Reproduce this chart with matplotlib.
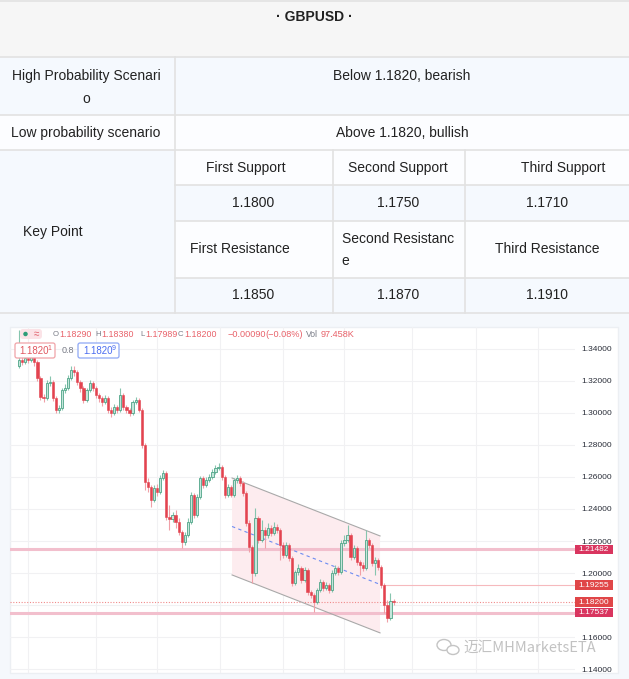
import matplotlib
matplotlib.use("Agg")
import matplotlib.pyplot as plt
import matplotlib.transforms as mtransforms
from matplotlib.patches import Rectangle, Polygon, FancyBboxPatch, Ellipse
import numpy as np

plt.rcParams['font.family'] = ['Liberation Sans', 'Noto Sans CJK SC', 'DejaVu Sans']

# ---- table data ----
title = "· GBPUSD ·"
scenario_labels = ["High Probability Scenari", "Low probability scenario"]
scenario_texts = ["Below 1.1820, bearish", "Above 1.1820, bullish"]
support_names = ["First Support", "Second Support", "Third Support"]
support_values = ["1.1800", "1.1750", "1.1710"]
resist_names = ["First Resistance", "Second Resistanc", "Third Resistance"]
resist_values = ["1.1850", "1.1870", "1.1910"]

# ---- candle data (daily GBPUSD) ----
closes = [1.3329, 1.3316, 1.3341, 1.3329, 1.3354, 1.3316, 1.3217, 1.3098, 1.3092, 1.3185,
          1.3192, 1.3092, 1.3017, 1.3030, 1.3142, 1.3154, 1.3217, 1.3266, 1.3254, 1.3192,
          1.3154, 1.3079, 1.3142, 1.3185, 1.3154, 1.3111, 1.3092, 1.3067, 1.3092, 1.3017,
          1.2999, 1.3036, 1.3017, 1.3111, 1.3036, 1.3017, 1.2999, 1.3067, 1.3079, 1.3017,
          1.2799, 1.2569, 1.2538, 1.2457, 1.2531, 1.2506, 1.2594, 1.2625, 1.2351, 1.2338,
          1.2363, 1.2319, 1.2257, 1.2195, 1.2238, 1.2319, 1.2488, 1.2363, 1.2475, 1.2594,
          1.2550, 1.2581, 1.2600, 1.2631, 1.2656, 1.2662, 1.2600, 1.2488, 1.2538, 1.2488,
          1.2581, 1.2594, 1.2562, 1.2500, 1.2313, 1.2164, 1.2002, 1.2344, 1.2207, 1.2270,
          1.2238, 1.2282, 1.2251, 1.2288, 1.2270, 1.2176, 1.2114, 1.2176, 1.2095, 1.1939,
          1.2008, 1.2033, 1.1958, 1.2020, 1.1884, 1.1865, 1.1821, 1.1896, 1.1946, 1.1908,
          1.1927, 1.1896, 1.2002, 1.2033, 1.2008, 1.2189, 1.2207, 1.2238, 1.2102, 1.2158,
          1.2070, 1.2052, 1.2033, 1.2207, 1.2176, 1.2064, 1.2083, 1.2039, 1.1927, 1.1802,
          1.1721, 1.1829, 1.1820]
highs = [1.3516, 1.3347, 1.3360, 1.3354, 1.3379, 1.3360, 1.3329, 1.3229, 1.3117, 1.3204,
         1.3229, 1.3204, 1.3104, 1.3048, 1.3154, 1.3179, 1.3235, 1.3291, 1.3291, 1.3266,
         1.3204, 1.3167, 1.3154, 1.3204, 1.3198, 1.3167, 1.3123, 1.3104, 1.3111, 1.3104,
         1.3036, 1.3055, 1.3048, 1.3154, 1.3123, 1.3048, 1.3030, 1.3079, 1.3098, 1.3092,
         1.3030, 1.2812, 1.2594, 1.2550, 1.2550, 1.2556, 1.2612, 1.2643, 1.2637, 1.2425,
         1.2382, 1.2394, 1.2344, 1.2270, 1.2257, 1.2344, 1.2506, 1.2500, 1.2494, 1.2606,
         1.2606, 1.2600, 1.2619, 1.2650, 1.2675, 1.2687, 1.2675, 1.2612, 1.2556, 1.2550,
         1.2594, 1.2612, 1.2606, 1.2575, 1.2513, 1.2332, 1.2176, 1.2407, 1.2357, 1.2332,
         1.2288, 1.2313, 1.2301, 1.2319, 1.2307, 1.2282, 1.2195, 1.2195, 1.2189, 1.2108,
         1.2020, 1.2058, 1.2045, 1.2039, 1.2033, 1.1896, 1.1877, 1.1908, 1.1964, 1.1958,
         1.1946, 1.1939, 1.2020, 1.2052, 1.2045, 1.2207, 1.2238, 1.2301, 1.2251, 1.2176,
         1.2170, 1.2083, 1.2070, 1.2270, 1.2220, 1.2189, 1.2102, 1.2095, 1.2052, 1.1939,
         1.1834, 1.1877, 1.1838]
lows = [1.3279, 1.3298, 1.3304, 1.3310, 1.3316, 1.3291, 1.3198, 1.3079, 1.3067, 1.3079,
        1.3167, 1.3073, 1.2999, 1.2999, 1.3017, 1.3123, 1.3142, 1.3204, 1.3229, 1.3173,
        1.3129, 1.3061, 1.3067, 1.3129, 1.3136, 1.3092, 1.3067, 1.3042, 1.3055, 1.2999,
        1.2974, 1.2986, 1.2999, 1.3005, 1.3017, 1.2999, 1.2980, 1.2986, 1.3055, 1.3005,
        1.2781, 1.2519, 1.2506, 1.2413, 1.2444, 1.2481, 1.2494, 1.2581, 1.2332, 1.2270,
        1.2319, 1.2282, 1.2238, 1.2158, 1.2176, 1.2226, 1.2307, 1.2344, 1.2351, 1.2463,
        1.2531, 1.2538, 1.2569, 1.2587, 1.2619, 1.2643, 1.2581, 1.2469, 1.2475, 1.2475,
        1.2475, 1.2562, 1.2544, 1.2481, 1.2294, 1.2133, 1.1939, 1.1983, 1.2189, 1.2195,
        1.2158, 1.2220, 1.2232, 1.2238, 1.2251, 1.2083, 1.2095, 1.2102, 1.2077, 1.1921,
        1.1927, 1.1989, 1.1939, 1.1946, 1.1865, 1.1846, 1.1759, 1.1809, 1.1884, 1.1890,
        1.1896, 1.1877, 1.1884, 1.1989, 1.1989, 1.1995, 1.2170, 1.2195, 1.2083, 1.2089,
        1.2052, 1.1989, 1.2014, 1.2020, 1.2158, 1.2045, 1.1989, 1.2020, 1.1908, 1.1753,
        1.1696, 1.1709, 1.1799]
first_open = 1.3291
opens = [first_open] + closes[:-1]

# month separators (candle index)
month_marks = [3, 25, 45, 65.5, 86, 106, 128, 149, 169]

# drawn channel
channel_x = [69.4, 117.6]
channel_upper = [1.2593, 1.2232]
channel_lower = [1.1989, 1.1628]

# horizontal levels
level_strong = [1.21482, 1.17537]
level_thin = 1.19255
last_price = 1.18200

legend_parts = [("O", "1.18290"), ("H", "1.18380"), ("L", "1.17989"), ("C", "1.18200")]
change_txt = ["\u22120.00090", "(\u22120.08%)"]
vol_txt = "97.458K"

W, H = 629, 679
fig = plt.figure(figsize=(W / 100, H / 100), dpi=100)

# ---------------- background / table ----------------
bg = fig.add_axes([0, 0, 1, 1])
bg.set_xlim(0, W)
bg.set_ylim(H, 0)
bg.axis('off')

border = '#e2e2e2'
blue_bg = '#f5f9fe'
white_bg = '#fcfdff'

bg.add_patch(Rectangle((0, 0), W, 57, fc='#f6f6f6', ec='none'))
bg.add_patch(Rectangle((0, 57), W, 58, fc=blue_bg, ec='none'))
bg.add_patch(Rectangle((0, 115), W, 35, fc=white_bg, ec='none'))
bg.add_patch(Rectangle((0, 150), 175, 163, fc=blue_bg, ec='none'))
for y0, hh, col in [(150, 35, white_bg), (185, 36, blue_bg), (221, 57, white_bg), (278, 35, blue_bg)]:
    bg.add_patch(Rectangle((175, y0), W - 175, hh, fc=col, ec='none'))
bg.add_patch(Rectangle((0, 313), W, H - 313, fc='#f5f8fc', ec='none'))

for y in [0.5, 57, 115, 150, 313]:
    bg.plot([0, W], [y, y], color=border, lw=1.2)
for y in [185, 221, 278]:
    bg.plot([175, W], [y, y], color=border, lw=1.2)
bg.plot([175, 175], [57, 313], color=border, lw=1.2)
for x in [332.5, 465]:
    bg.plot([x, x], [150, 313], color=border, lw=1.2)

tk = dict(fontsize=10, color='#222222', va='center')
bg.text(314, 17, title, ha='center', fontweight='bold', **tk)
bg.text(86, 76, scenario_labels[0], ha='center', **tk)
bg.text(86, 99, "o", ha='center', **tk)
bg.text(402, 76, scenario_texts[0], ha='center', **tk)
bg.text(86, 133, scenario_labels[1], ha='center', **tk)
bg.text(402, 133, scenario_texts[1], ha='center', **tk)
bg.text(23, 232, "Key Point", ha='left', **tk)

name_x = [246, 398, 563]
val_x = [253, 398, 547]
res_x = [240, 398, 547]
for i in range(3):
    bg.text(name_x[i], 168, support_names[i], ha='center', **tk)
    bg.text(val_x[i], 203, support_values[i], ha='center', **tk)
    bg.text(val_x[i], 295, resist_values[i], ha='center', **tk)
    if i == 1:
        bg.text(res_x[i], 239, resist_names[i], ha='center', **tk)
        bg.text(345, 261, "e", ha='center', **tk)
    else:
        bg.text(res_x[i], 249, resist_names[i], ha='center', **tk)

# chart panel
bg.add_patch(Rectangle((10, 327), 608, 346, fc='white', ec='#eceff3', lw=1))

# ---------------- candlestick chart ----------------
ax = fig.add_axes([10 / W, (H - 673) / H, 565 / W, 346 / H])
ax.set_facecolor('none')
ax.set_xlim(-2.93, 181.1)
ax.set_ylim(1.1378, 1.3534)
for s in ax.spines.values():
    s.set_visible(False)

yt = np.arange(1.14, 1.3401, 0.02)
ax.set_yticks(yt)
# the 1.18000 label sits under the price tags on the live chart
ax.set_yticklabels(["" if abs(v - 1.18) < 1e-6 else "%.5f" % v for v in yt])
ax.yaxis.tick_right()
ax.tick_params(axis='y', length=0, pad=4.5, labelsize=6, labelcolor='#2a2e39')
ax.set_xticks(month_marks)
ax.tick_params(axis='x', length=0, labelbottom=False)
ax.grid(True, color='#f1f1f3', lw=0.8)
ax.set_axisbelow(True)

# channel
poly = Polygon([[channel_x[0], channel_upper[0]], [channel_x[1], channel_upper[1]],
                [channel_x[1], channel_lower[1]], [channel_x[0], channel_lower[0]]],
               closed=True, fc='#fdecef', ec='none', zorder=1)
ax.add_patch(poly)
ax.plot(channel_x, channel_upper, color='#a9a9a9', lw=0.8, zorder=2)
ax.plot(channel_x, channel_lower, color='#a9a9a9', lw=0.8, zorder=2)
mid = [(a + b) / 2 for a, b in zip(channel_upper, channel_lower)]
ax.plot(channel_x, mid, color='#6d8cf2', lw=0.8, dashes=(3, 3), zorder=2)

# levels
for lv in level_strong:
    ax.axhline(lv, color='#f2bfcd', lw=2.2, zorder=1.5)
ax.plot([119, 181.1], [level_thin, level_thin], color='#f6b9bd', lw=0.8, zorder=1.5)
ax.axhline(last_price, color='#f08a8a', lw=0.8, dashes=(1, 1.5), zorder=1.5)

# candles
idx = np.arange(len(closes))
o = np.array(opens)
c = np.array(closes)
hi = np.array(highs)
lo = np.array(lows)
up = c >= o
wick_cols = np.where(up, '#86c5ae', '#f0a0a7')
ax.vlines(idx, lo, hi, colors=wick_cols, lw=0.8, zorder=3)
ax.bar(idx[up], (c - o)[up], bottom=o[up], width=0.72, color='#c4e6db',
       edgecolor='#4ea487', lw=0.6, zorder=4)
ax.bar(idx[~up], (c - o)[~up], bottom=o[~up], width=0.72, color='#e3434f',
       edgecolor='#e3434f', lw=0.4, zorder=4)

# price tags on the right scale
blend = mtransforms.blended_transform_factory(ax.transAxes, ax.transData)
tags = [(level_strong[0], '#d9355f'), (level_thin, '#e04648'),
        (last_price, '#e04648'), (level_strong[1], '#d9355f')]
tag_w = 38 / 565
tag_h = 9.5 / 1605
for val, col in tags:
    ax.add_patch(Rectangle((1.0, val - tag_h / 2), tag_w, tag_h, transform=blend,
                           fc=col, ec='none', clip_on=False, zorder=6))
    ax.text(1.0 + tag_w / 2, val, "%.5f" % val, transform=blend, ha='center',
            va='center', fontsize=6, color='white', zorder=7, clip_on=False)

# ---------------- overlay: legend + watermark ----------------
top = fig.add_axes([0, 0, 1, 1])
top.set_xlim(0, W)
top.set_ylim(H, 0)
top.axis('off')
top.set_facecolor('none')

top.add_patch(FancyBboxPatch((20, 329), 22, 10, boxstyle='round,pad=0,rounding_size=3',
                             fc='#fbe3e7', ec='none'))
top.add_patch(Ellipse((25.5, 334), 4.5, 4.5, fc='#2e9d78', ec='none'))
top.text(36, 334, "\u2248", fontsize=7, color='#e0606a', ha='center', va='center')

val_pos = [59, 101, 145, 184]
red = '#e8626a'
grey = '#787b86'
for (lt, val), x in zip(legend_parts, val_pos):
    top.text(x - 0.5, 334.5, lt, fontsize=5.6, color=grey, va='center', ha='right')
    top.text(x, 334.5, val, fontsize=6.4, color=red, va='center')
top.text(228, 334.5, change_txt[0], fontsize=6.6, color=red, va='center')
top.text(265, 334.5, change_txt[1], fontsize=6.6, color=red, va='center')
top.text(306, 334.5, "Vol", fontsize=6.2, color=grey, va='center')
top.text(321, 334.5, vol_txt, fontsize=6.6, color=red, va='center')

top.add_patch(FancyBboxPatch((15, 343), 40, 15, boxstyle='round,pad=0,rounding_size=2',
                             fc='white', ec='#f0a3a8', lw=0.9))
top.text(19, 350.5, "1.1820", fontsize=7, color='#e0575f', va='center')
top.text(47.5, 348.5, "1", fontsize=5, color='#e0575f', va='center')
top.text(62, 350.5, "0.8", fontsize=6.5, color=grey, va='center')
top.add_patch(FancyBboxPatch((78, 343), 41, 15, boxstyle='round,pad=0,rounding_size=2',
                             fc='white', ec='#8fa8f5', lw=0.9))
top.text(83, 350.5, "1.1820", fontsize=7, color='#4a6cf0', va='center')
top.text(111.5, 348.5, "9", fontsize=5, color='#4a6cf0', va='center')

# watermark
top.add_patch(Ellipse((444, 645), 14, 11, fc='none', ec='#c4c4c4', lw=1))
top.add_patch(Ellipse((453, 650), 12, 9, fc='white', ec='#c4c4c4', lw=1))
top.text(463, 648, "迈汇MHMarketsETA", fontsize=10.5, color='#c2c2c2', va='center',
         family=['Noto Sans CJK SC', 'DejaVu Sans'])

fig.savefig("out.png", dpi=100)
